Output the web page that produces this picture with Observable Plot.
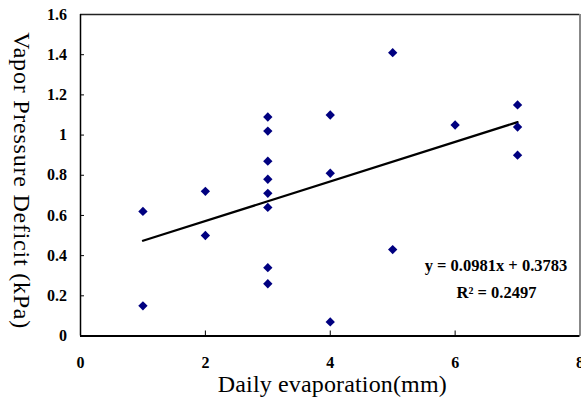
<!DOCTYPE html>
<html><head><meta charset="utf-8">
<script src="https://cdn.jsdelivr.net/npm/d3@7"></script>
<script src="https://cdn.jsdelivr.net/npm/@observablehq/plot@0.6"></script>
<style>body{margin:0;background:#fff}</style>
</head><body><div id="chart"></div>
<script>
const evaporation = [1,1,2,2,3,3,3,3,3,3,3,3,4,4,4,5,5,6,7,7,7];
const vpd = [0.62,0.15,0.72,0.50,1.09,1.02,0.87,0.78,0.71,0.64,0.34,0.26,1.10,0.81,0.07,1.41,0.43,1.05,1.15,1.04,0.90];
const xTicks = [0,2,4,6,8];
const xTickLabels = ["0","2","4","6","8"];
const yTicks = [0,0.2,0.4,0.6,0.8,1,1.2,1.4,1.6];
const yTickLabels = ["0","0.2","0.4","0.6","0.8","1","1.2","1.4","1.6"];
const equationLines = ["y = 0.0981x + 0.3783","R² = 0.2497"];
const xLabel = "Daily evaporation(mm)";
const yLabel = "Vapor Pressure Deficit (kPa)";

const data = evaporation.map((x,i)=>({x, y: vpd[i]}));

const W = 581, H = 398, mL = 80, mR = 1.5, mT = 14, mB = 62.5;
const plotW = W - mL - mR, plotH = H - mT - mB;

const chart = Plot.plot({
  width: W, height: H,
  marginLeft: mL, marginRight: mR, marginTop: mT, marginBottom: mB,
  style: {fontFamily: "'Liberation Serif', 'Times New Roman', serif", fontSize: "15px", color: "black", background: "white"},
  x: {domain: [0,8], axis: null},
  y: {domain: [0,1.6], axis: null},
  marks: [
    Plot.axisX({ticks: xTicks, label: null, tickSize: 0, tickPadding: 20.5, tickFormat: d => xTickLabels[xTicks.indexOf(d)], fontSize: 16, fontWeight: "bold"}),
    Plot.axisY({ticks: yTicks, label: null, tickSize: 0, tickPadding: 13.5, tickFormat: d => yTickLabels[yTicks.indexOf(d)], fontSize: 16, fontWeight: "bold"}),
    Plot.tickX(xTicks, {x: d => d, stroke: "black", insetTop: plotH - 5}),
    Plot.tickY(yTicks, {y: d => d, stroke: "black", insetRight: plotW - 4}),
    Plot.ruleY([1.6], {stroke: "#222", strokeWidth: 1.5}),
    Plot.ruleX([8], {stroke: "#888", strokeWidth: 2}),
    Plot.ruleX([0], {stroke: "black", strokeWidth: 1.5}),
    Plot.ruleY([0], {stroke: "black", strokeWidth: 2}),
    Plot.linearRegressionY(data, {x: "x", y: "y", ci: 0, stroke: "black", strokeWidth: 2.2}),
    Plot.dot(data, {x: "x", y: "y", symbol: "diamond2", r: 4.2, fill: "#000080", stroke: "none"}),
    Plot.text([equationLines[0]], {frameAnchor: "bottom-right", dx: -84, dy: -69.8, textAnchor: "middle", lineAnchor: "middle", fontSize: 16.5, fontWeight: "bold"}),
    Plot.text([equationLines[1]], {frameAnchor: "bottom-right", dx: -83.5, dy: -43.3, textAnchor: "middle", lineAnchor: "middle", fontSize: 16.5, fontWeight: "bold"}),
    Plot.text([xLabel], {frameAnchor: "bottom", dx: 2, dy: 48, textAnchor: "middle", lineAnchor: "middle", fontSize: 24}),
    Plot.text([yLabel], {frameAnchor: "left", rotate: 90, dx: -59, dy: 5, textAnchor: "middle", lineAnchor: "middle", fontSize: 24})
  ]
});
document.getElementById("chart").appendChild(chart);
d3.select(chart).selectAll("text").each(function(){
  const t = d3.select(this).text();
  if (t === xLabel) d3.select(this).attr("textLength", 229).attr("lengthAdjust", "spacing");
  if (t === yLabel) d3.select(this).attr("textLength", 296).attr("lengthAdjust", "spacing");
});
</script>
</body></html>
